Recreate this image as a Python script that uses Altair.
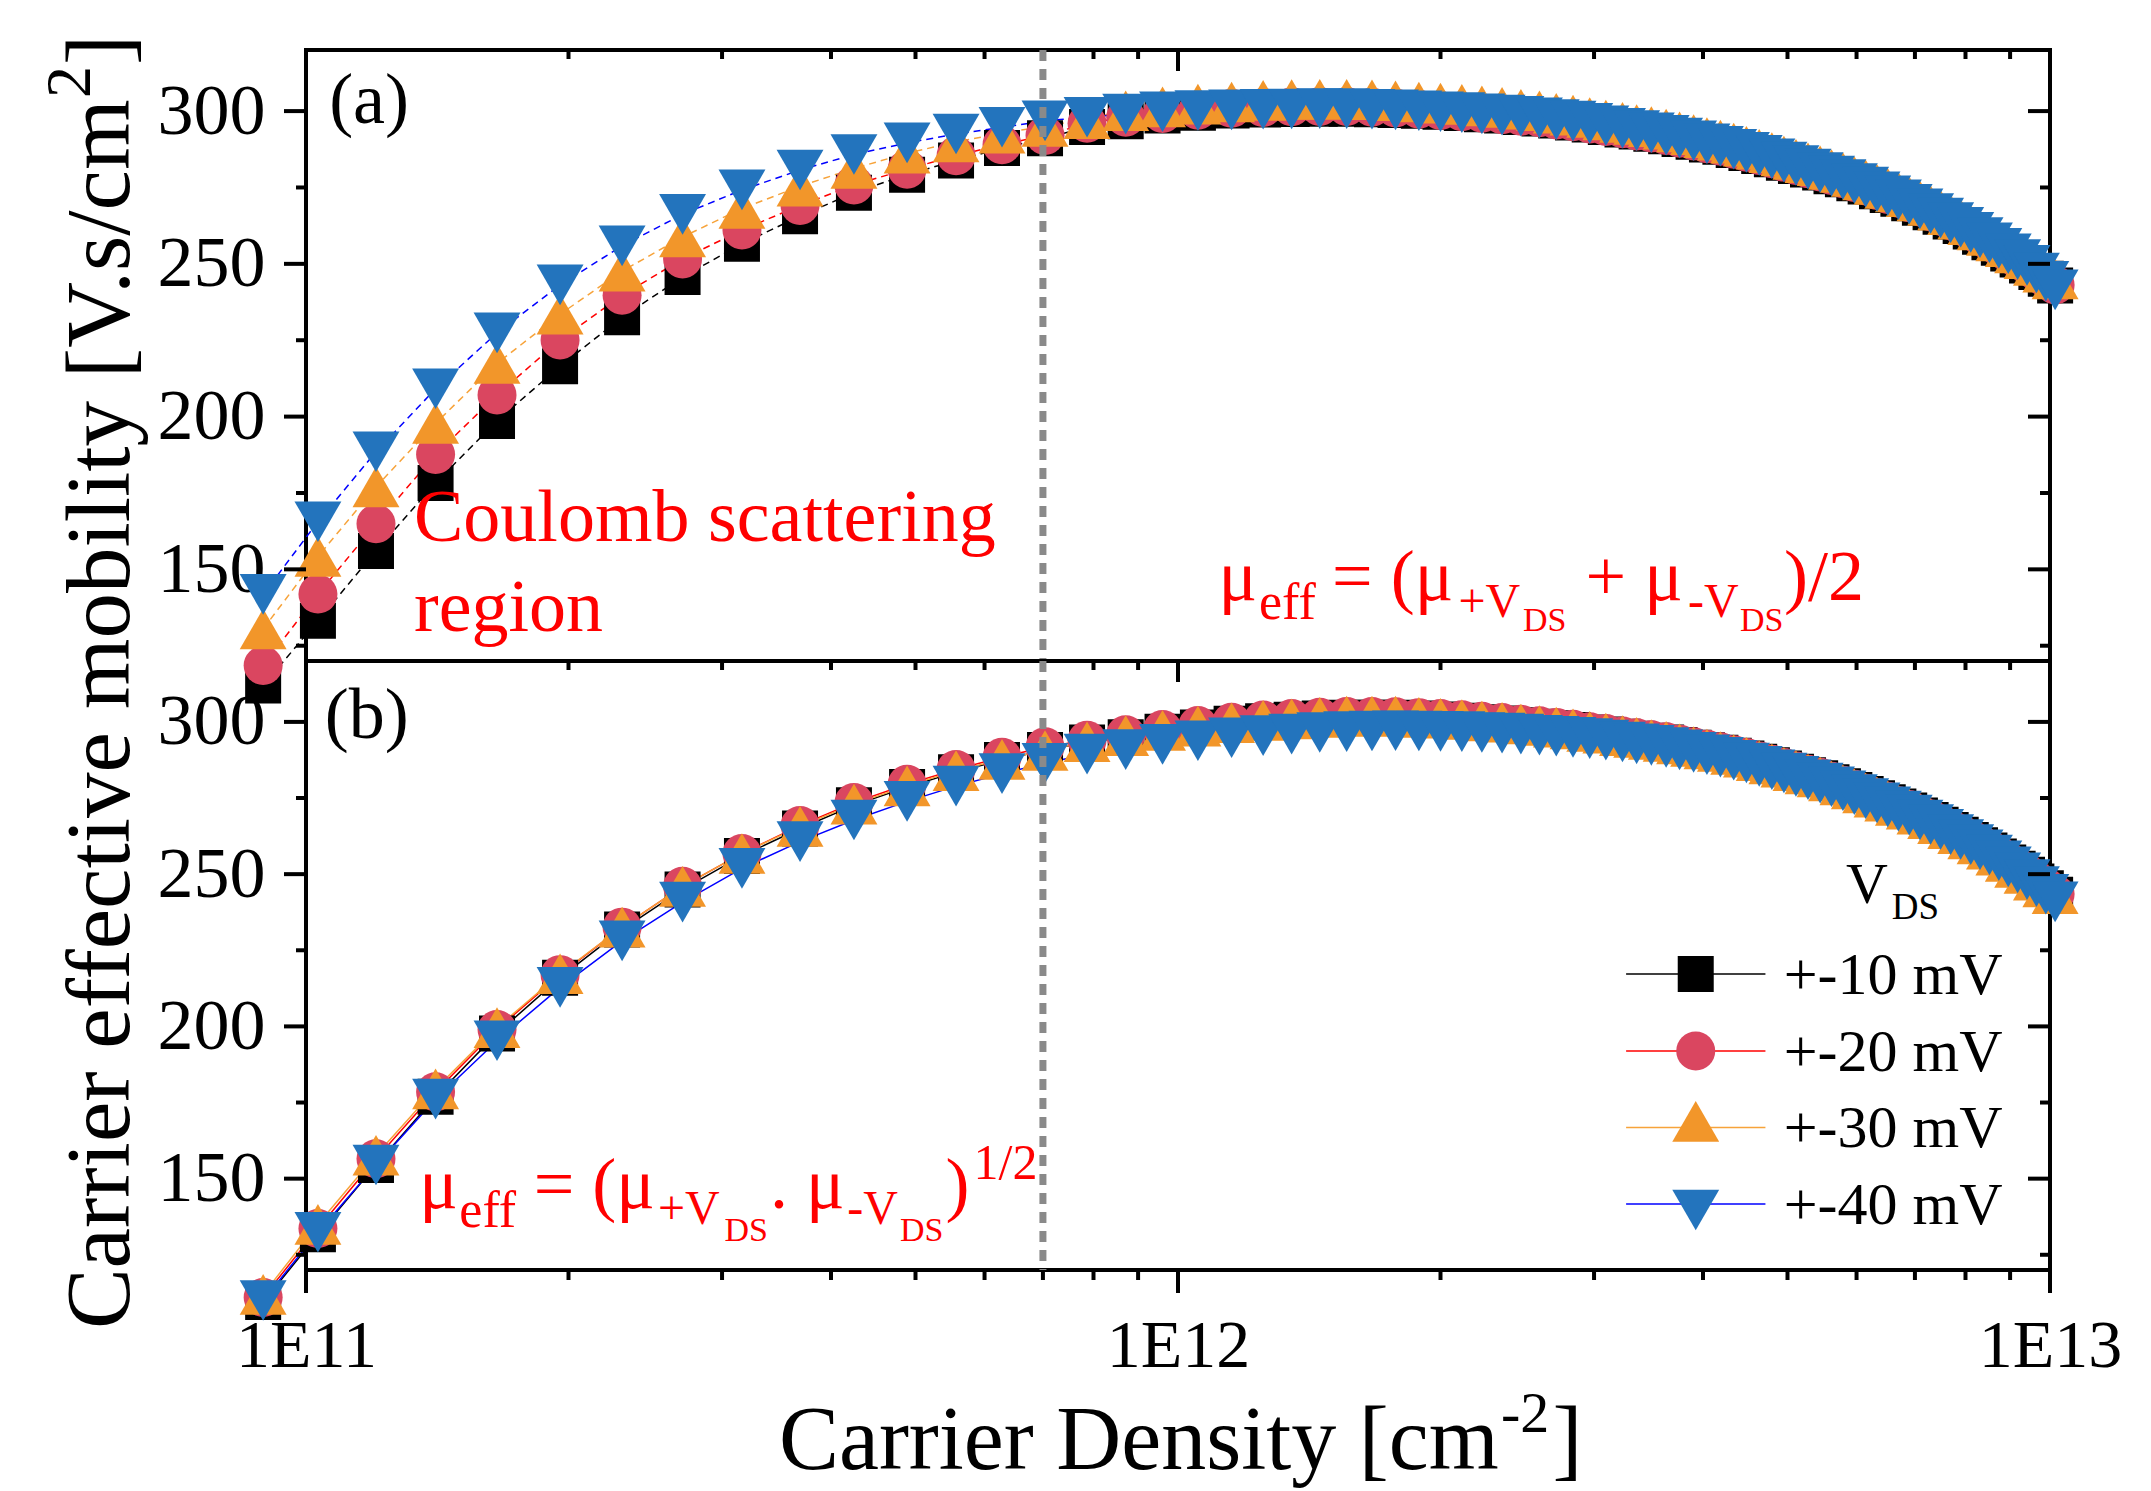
import altair as alt
import pandas as pd

# ---------------- data ----------------
# carrier density [cm^-2] of the measured points (shared by all series)
density = [8.93e10, 1.032e11, 1.203e11, 1.408e11, 1.656e11, 1.956e11, 2.304e11, 2.703e11,
           3.162e11, 3.686e11, 4.25e11, 4.89e11, 5.565e11, 6.283e11, 7.039e11, 7.865e11,
           8.71e11, 9.60e11, 1.054e12, 1.152e12, 1.252e12, 1.350e12, 1.454e12, 1.561e12,
           1.669e12, 1.776e12, 1.889e12, 2.000e12, 2.116e12, 2.231e12, 2.353e12, 2.473e12,
           2.597e12, 2.715e12, 2.838e12, 2.966e12, 3.095e12, 3.234e12, 3.357e12, 3.490e12,
           3.629e12, 3.760e12, 3.902e12, 4.042e12, 4.188e12, 4.338e12, 4.486e12, 4.640e12,
           4.798e12, 4.953e12, 5.113e12, 5.278e12, 5.450e12, 5.616e12, 5.788e12, 5.965e12,
           6.146e12, 6.333e12, 6.515e12, 6.701e12, 6.895e12, 7.093e12, 7.296e12, 7.491e12,
           7.693e12, 7.899e12, 8.112e12, 8.313e12, 8.522e12, 8.736e12, 8.956e12, 9.181e12,
           9.411e12, 9.647e12, 9.890e12, 1.0136e13]

# panel (a): mu_eff = (mu(+Vds) + mu(-Vds)) / 2
mob_a_10 = [112, 133.2, 156, 178.3, 198.6, 216.5, 232.5, 245.7, 256.6, 265.6, 273.3, 279.2, 283.8, 287.9, 291.1, 294.8,
            296.7, 298.6, 299.5, 300.2, 300.5, 300.7, 300.8, 300.8, 300.6, 300.4, 300.1, 299.8, 299.4, 299.0, 298.6, 298.1,
            297.6, 296.9, 296.3, 295.6, 294.8, 294.0, 293.3, 292.6, 291.8, 290.9, 290.0, 289.1, 288.3, 287.3, 286.3, 285.3,
            284.2, 283.1, 282.0, 280.9, 279.9, 278.7, 277.7, 276.4, 275.3, 273.8, 272.5, 271.3, 269.8, 268.4, 266.9, 265.4,
            263.9, 262.4, 260.6, 258.9, 257.1, 255.3, 253.4, 251.4, 249.5, 247.3, 245.1, 242.9]
mob_a_20 = [118.5, 141.9, 164.9, 187.6, 207.1, 225.1, 239.7, 251.6, 261.1, 269.1, 275.8, 281, 285.4, 289, 292, 296,
            298.0, 299.2, 300.3, 300.9, 301.2, 301.4, 301.5, 301.5, 301.3, 301.0, 300.6, 300.2, 299.8, 299.3, 298.8, 298.3,
            297.8, 297.1, 296.5, 295.8, 295.0, 294.2, 293.5, 292.8, 292.0, 291.1, 290.2, 289.3, 288.5, 287.5, 286.5, 285.5,
            284.4, 283.3, 282.2, 281.1, 280.1, 278.9, 277.9, 276.6, 275.5, 274.0, 272.7, 271.5, 270.0, 268.6, 267.1, 265.6,
            264.1, 262.6, 260.8, 259.1, 257.3, 255.5, 253.6, 251.6, 249.7, 247.5, 245.3, 243.1]
mob_a_30 = [130.5, 154.2, 177, 197.8, 217.4, 233.5, 247.6, 258.8, 268.1, 275.4, 281.2, 286.2, 289.9, 292.8, 295, 297.5,
            300.1, 301.4, 302.3, 303.0, 303.5, 303.8, 303.9, 303.9, 303.7, 303.4, 303.0, 302.6, 302.2, 301.7, 301.2, 300.6,
            300.1, 299.3, 298.7, 297.9, 297.1, 296.3, 295.6, 294.9, 294.1, 293.2, 292.3, 291.3, 290.5, 289.5, 288.5, 287.5,
            286.4, 285.3, 284.2, 283.1, 282.1, 280.9, 279.9, 278.6, 277.5, 276.0, 274.7, 273.5, 272.0, 270.6, 269.1, 267.6,
            266.1, 264.6, 262.8, 261.1, 259.3, 257.5, 255.6, 253.6, 251.7, 249.5, 247.3, 245.1]
mob_a_40 = [141.8, 165.6, 188.5, 209.1, 227.4, 243.1, 255.9, 266.2, 274.2, 280.7, 285.8, 289.6, 292.5, 294.7, 296.8, 298.0,
            299.0, 299.8, 300.2, 300.4, 300.6, 300.7, 300.8, 300.8, 300.6, 300.4, 300.1, 299.8, 299.5, 299.1, 298.7, 298.3,
            297.8, 297.2, 296.7, 296.0, 295.2, 294.4, 293.6, 292.9, 292.1, 291.2, 290.3, 289.3, 288.5, 287.5, 286.5, 285.5,
            284.4, 283.3, 282.2, 281.0, 279.9, 278.7, 277.6, 276.3, 275.1, 273.6, 272.3, 271.0, 269.5, 268.0, 266.5, 265.0,
            263.5, 262.0, 260.3, 258.6, 256.9, 255.1, 253.3, 251.4, 249.5, 247.0, 244.3, 241.5]

# panel (b): mu_eff = (mu(+Vds) * mu(-Vds))^(1/2)
mob_b_10 = [109.5, 131.7, 154.5, 176.9, 197.7, 216, 231.8, 245, 256, 265, 272.6, 278.6, 283.5, 287.5, 290.8, 293.2,
            295.0, 296.8, 298.2, 299.4, 300.2, 300.7, 301.1, 301.4, 301.4, 301.4, 301.1, 300.8, 300.4, 299.9, 299.5, 298.9,
            298.4, 297.9, 297.3, 296.5, 295.9, 295.1, 294.5, 293.8, 293.2, 292.4, 291.5, 290.7, 289.9, 288.9, 288.0, 286.9,
            285.8, 284.7, 283.6, 282.5, 281.5, 280.2, 278.9, 277.6, 276.3, 274.9, 273.6, 272.2, 270.9, 269.3, 267.8, 266.2,
            264.5, 262.9, 261.2, 259.5, 257.8, 255.8, 253.8, 251.8, 249.8, 247.6, 245.4, 243.2]
mob_b_20 = [111, 133.6, 156.5, 178.5, 199, 217, 232.6, 246, 256.8, 266, 273.5, 279.5, 284.4, 288.4, 291.8, 294,
            295.8, 297.5, 298.8, 299.9, 300.6, 301.1, 301.5, 301.8, 301.8, 301.7, 301.4, 301.1, 300.7, 300.2, 299.8, 299.2,
            298.7, 298.2, 297.6, 296.8, 296.2, 295.4, 294.8, 294.1, 293.5, 292.7, 291.8, 291.0, 290.2, 289.2, 288.3, 287.2,
            286.1, 285.0, 283.9, 282.8, 281.8, 280.5, 279.2, 277.9, 276.6, 275.2, 273.9, 272.5, 271.2, 269.6, 268.1, 266.5,
            264.8, 263.2, 261.5, 259.8, 258.1, 256.1, 254.1, 252.1, 250.1, 247.9, 245.7, 243.5]
mob_b_30 = [112, 135, 157.7, 179.5, 199.6, 217.3, 232.6, 246, 256.8, 265.7, 273, 279, 284, 287.7, 290.6, 293.5,
            295.5, 297.2, 298.6, 299.7, 300.5, 301.0, 301.5, 301.9, 301.9, 301.9, 301.5, 301.2, 300.8, 300.3, 299.9, 299.3,
            298.8, 298.3, 297.7, 296.9, 296.3, 295.5, 294.9, 294.2, 293.6, 292.8, 291.9, 291.1, 290.3, 289.3, 288.4, 287.3,
            286.2, 285.1, 284.0, 282.9, 281.9, 280.6, 279.3, 278.0, 276.7, 275.3, 274.0, 272.6, 271.3, 269.7, 268.2, 266.6,
            264.9, 263.3, 261.6, 259.9, 258.2, 256.2, 254.2, 252.2, 250.2, 248.0, 245.8, 243.6]
mob_b_40 = [110, 132.4, 154.5, 176.1, 195.3, 212.8, 228.1, 240.8, 251.9, 260.7, 267.8, 273.9, 278.9, 283, 286.4, 289.4,
            290.9, 292.6, 293.8, 294.8, 295.5, 296.0, 296.5, 296.8, 297.0, 297.1, 297.0, 296.9, 296.8, 296.5, 296.3, 296.0,
            295.6, 295.3, 294.9, 294.5, 294.0, 293.4, 292.8, 292.3, 291.6, 290.8, 290.0, 289.2, 288.4, 287.4, 286.5, 285.4,
            284.3, 283.2, 282.1, 281.0, 279.9, 278.7, 277.4, 276.1, 274.8, 273.4, 272.1, 270.7, 269.4, 267.8, 266.3, 264.7,
            263.0, 261.4, 259.7, 258.0, 256.3, 254.4, 252.4, 250.4, 248.2, 245.9, 243.4, 240.9]

series_ids = ["10", "20", "30", "40"]
legend_labels = ["+-10 mV", "+-20 mV", "+-30 mV", "+-40 mV"]

x_major = [1e11, 1e12, 1e13]
x_minor = [2e11, 3e11, 4e11, 5e11, 6e11, 7e11, 8e11, 9e11,
           2e12, 3e12, 4e12, 5e12, 6e12, 7e12, 8e12, 9e12]
y_major = [150, 200, 250, 300]
y_minor = [125, 175, 225, 275]
marker_density = [7.0e11]

# ---------------- styling ----------------
FONT = "Liberation Serif"
RED = "#FF0000"
W, HA, HB = 1744, 611, 609
STYLE = {  # shape, marker fill, marker size, line colour
    "10": ("square", "#000000", 1296, "#000000"),
    "20": ("circle", "#DA4660", 1521, "#FF0000"),
    "30": ("triangle-up", "#F2962A", 2200, "#F7A33A"),
    "40": ("triangle-down", "#2374BD", 2200, "#0000FF"),
}


def make_panel(series_vals, height, show_x, texts, legend=False, line_dash=None):
    xs = alt.Scale(type="log", domain=[1e11, 1e13], nice=False)
    ys = alt.Scale(domain=[120, 320], nice=False, zero=False)
    if show_x:
        xaxis = alt.Axis(values=x_major, labelExpr="'1E' + round(log(datum.value) / LN10)",
                         ticks=False, tickSize=0, domain=False, grid=False, labelFont=FONT,
                         labelFontSize=68, labelColor="black", labelPadding=42, labelFlush=False,
                         labelBaseline="top", labelOverlap=False, title=None)
    else:
        xaxis = None
    yaxis = alt.Axis(values=y_major, ticks=False, tickSize=0, domain=False, grid=False,
                     labelFont=FONT, labelFontSize=72, labelColor="black", labelPadding=41,
                     labelFlush=False, labelOverlap=False, title=None)

    def X(f):
        return alt.X(f, type="quantitative", scale=xs, axis=xaxis)

    def Y(f):
        return alt.Y(f, type="quantitative", scale=ys, axis=yaxis)

    def XD(v):
        return alt.XDatum(v, type="quantitative", scale=xs, axis=xaxis)

    def YD(v):
        return alt.YDatum(v, type="quantitative", scale=ys, axis=yaxis)

    one = pd.DataFrame({"k": [0]})
    layers = []
    # connecting lines
    for sid in series_ids:
        df = pd.DataFrame({"n": density, "mu": series_vals[sid]})
        lkw = dict(color=STYLE[sid][3], strokeWidth=1.5)
        if line_dash:
            lkw["strokeDash"] = line_dash
        layers.append(alt.Chart(df).mark_line(**lkw).encode(x=X("n"), y=Y("mu")))
    # markers
    for sid in series_ids:
        shape, fill, size, _ = STYLE[sid]
        df = pd.DataFrame({"n": density, "mu": series_vals[sid]})
        layers.append(alt.Chart(df).mark_point(shape=shape, filled=True, color=fill, size=size,
                                               opacity=1, strokeWidth=0)
                      .encode(x=X("n"), y=Y("mu")))

    # tick marks (left/bottom outward, top/right inward)
    def hticks(vals, x1, x2):
        return alt.Chart(pd.DataFrame({"t": vals})).mark_rule(color="black", strokeWidth=4).encode(
            y=Y("t"), x=alt.value(x1), x2=alt.value(x2))

    def vticks(vals, y1, y2):
        return alt.Chart(pd.DataFrame({"t": vals})).mark_rule(color="black", strokeWidth=4).encode(
            x=X("t"), y=alt.value(y1), y2=alt.value(y2))

    layers += [hticks(y_major, -22, 0), hticks(y_minor, -10, 0),
               hticks(y_major, W - 22, W), hticks(y_minor, W - 10, W),
               vticks(x_major, 0, 21), vticks(x_minor, 0, 9)]
    if show_x:
        layers += [vticks(x_major, height, height + 23), vticks(x_minor, height, height + 10)]

    # legend (drawn inside the lower panel)
    if legend:
        rows = [217.2, 191.9, 166.8, 141.7]
        sym_shift = {"10": 0, "20": 0, "30": 2.0, "40": -2.0}
        for sid, lab, ry in zip(series_ids, legend_labels, rows):
            shape, fill, size, lcol = STYLE[sid]
            layers.append(alt.Chart(one).mark_rule(color=lcol, strokeWidth=1.5).encode(
                x=XD(3.265e12), x2=alt.X2Datum(4.717e12), y=YD(ry)))
            layers.append(alt.Chart(one).mark_point(shape=shape, filled=True, color=fill,
                                                    size=size, opacity=1, strokeWidth=0).encode(
                x=XD(3.924e12), y=YD(ry + sym_shift[sid])))
            layers.append(alt.Chart(one).mark_text(text=lab, font=FONT, fontSize=60, color="black",
                                                   align="left", baseline="alphabetic", dy=20).encode(
                x=XD(4.951e12), y=YD(ry)))

    # annotation text pieces
    for (t, xv, yv, size, color, dx, dy, angle) in texts:
        kw = dict(text=t, font=FONT, fontSize=size, color=color, align="left",
                  baseline="alphabetic", dx=dx, dy=dy)
        if angle:
            kw["angle"] = angle
        layers.append(alt.Chart(one).mark_text(**kw).encode(x=XD(xv), y=YD(yv)))

    # dashed marker line
    layers.append(alt.Chart(pd.DataFrame({"v": marker_density})).mark_rule(
        color="#8A8A8A", strokeWidth=7, strokeDash=[11, 8]).encode(x=X("v")))

    return alt.layer(*layers).properties(width=W, height=height)


FA = (1.113e12, 140.1)
texts_a = [
    ("(a)", 1.063e11, 296.0, 72, "black", 0, 0, 0),
    ("Coulomb scattering", 1.33e11, 159.3, 74, RED, 0, 0, 0),
    ("region", 1.33e11, 129.7, 74, RED, 0, 0, 0),
    ("μ", FA[0], FA[1], 72, RED, 0, 0, 0),
    ("eff", FA[0], FA[1], 52, RED, 40.5, 19, 0),
    ("= (μ", FA[0], FA[1], 72, RED, 113.5, 0, 0),
    ("+V", FA[0], FA[1], 48, RED, 240, 17, 0),
    ("DS", FA[0], FA[1], 34, RED, 304.5, 31, 0),
    ("+ μ", FA[0], FA[1], 72, RED, 367, 0, 0),
    ("-V", FA[0], FA[1], 48, RED, 469.5, 17, 0),
    ("DS", FA[0], FA[1], 34, RED, 521.5, 31, 0),
    (")/2", FA[0], FA[1], 72, RED, 565.5, 0, 0),
]

FB = (1.349e11, 140.4)
YT = (6.27e10, 100.6)
XT = (3.486e11, 54.8)
texts_b = [
    ("(b)", 1.051e11, 294.7, 72, "black", 0, 0, 0),
    ("μ", FB[0], FB[1], 72, RED, 0, 0, 0),
    ("eff", FB[0], FB[1], 52, RED, 40, 19, 0),
    ("= (μ", FB[0], FB[1], 72, RED, 114.3, 0, 0),
    ("+V", FB[0], FB[1], 48, RED, 238.6, 16, 0),
    ("DS", FB[0], FB[1], 34, RED, 305.1, 33, 0),
    (". μ", FB[0], FB[1], 72, RED, 350.6, 0, 0),
    ("-V", FB[0], FB[1], 48, RED, 427.9, 16, 0),
    ("DS", FB[0], FB[1], 34, RED, 480.6, 33, 0),
    (")", FB[0], FB[1], 72, RED, 526.1, 0, 0),
    ("1/2", FB[0], FB[1], 50, RED, 554.2, -29, 0),
    # legend title
    ("V", 5.836e12, 240.5, 58, "black", 0, 0, 0),
    ("DS", 5.836e12, 240.5, 37, "black", 45.7, 16, 0),
    # x-axis title
    ("Carrier Density [cm", XT[0], XT[1], 90, "black", 0, 0, 0),
    ("-2", XT[0], XT[1], 58, "black", 722, -37, 0),
    ("]", XT[0], XT[1], 90, "black", 773.5, 0, 0),
    # y-axis title (rotated)
    ("Carrier effective mobility [V.s/cm", YT[0], YT[1], 91, "black", 0, 0, 270),
    ("2", YT[0], YT[1], 64, "black", 1231, -39, 270),
    ("]", YT[0], YT[1], 91, "black", 1264, 0, 270),
]

vals_a = {"10": mob_a_10, "20": mob_a_20, "30": mob_a_30, "40": mob_a_40}
vals_b = {"10": mob_b_10, "20": mob_b_20, "30": mob_b_30, "40": mob_b_40}

top = make_panel(vals_a, HA, False, texts_a, line_dash=[7, 5])
bottom = make_panel(vals_b, HB, True, texts_b, legend=True)

chart = (
    alt.vconcat(top, bottom, spacing=0, bounds="flush")
    .properties(padding={"left": 29, "top": 24, "right": 10, "bottom": 10}, background="white")
    .configure_view(stroke="black", strokeWidth=4)
    .configure_axis(grid=False)
)

chart.save("out.html", embed_options={"renderer": "svg", "actions": False})
